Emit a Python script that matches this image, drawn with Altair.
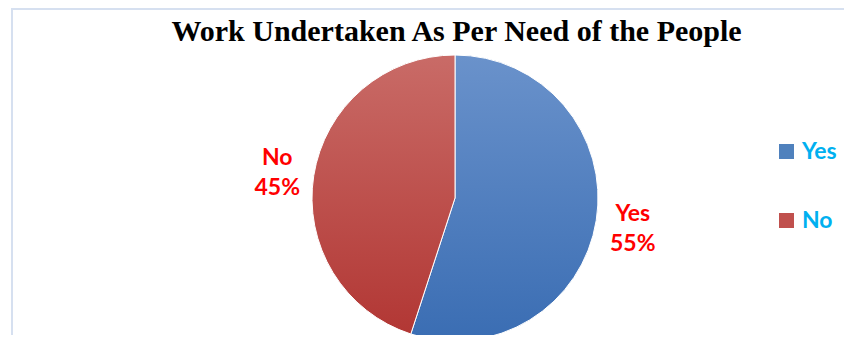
import altair as alt
import pandas as pd

labels = ["Yes", "No"]
values = [55, 45]
label_text = ["Yes\n55%", "No\n45%"]
orders = [1, 2]

df = pd.DataFrame({"label": labels, "value": values, "text": label_text, "ord": orders})

W, H = 833, 327
CX, CY, R = 444, 190, 143

grad_blue = {"gradient": "linear", "x1": 0, "y1": 0, "x2": 0, "y2": 1,
             "stops": [{"offset": 0, "color": "#6A92CB"}, {"offset": 1, "color": "#3A6DB3"}]}
grad_red = {"gradient": "linear", "x1": 0, "y1": 0, "x2": 0, "y2": 1,
            "stops": [{"offset": 0, "color": "#C96B67"}, {"offset": 1, "color": "#B23734"}]}

base = alt.Chart(df)

pie = base.mark_arc(radius=R, stroke="#ffffff", strokeWidth=1).encode(
    theta=alt.Theta("value:Q", stack=True),
    order=alt.Order("ord:Q"),
    color=alt.Color("label:N",
                    scale=alt.Scale(domain=labels, range=["#4F81BD", "#C0504D"]),
                    legend=alt.Legend(title=None, orient="none", legendX=764, legendY=132,
                                      symbolType="square", symbolSize=225, symbolStrokeWidth=0,
                                      labelFont="Lato", labelFontWeight="bold", labelFontSize=23,
                                      labelColor="#00B0F0", labelOffset=4, rowPadding=45)),
    x=alt.value(CX), y=alt.value(CY),
)

grad = base.mark_arc(radius=R, stroke="#ffffff", strokeWidth=1).encode(
    theta=alt.Theta("value:Q", stack=True),
    order=alt.Order("ord:Q"),
    color=alt.condition("datum.label === 'Yes'", alt.value(grad_blue), alt.value(grad_red)),
    x=alt.value(CX), y=alt.value(CY),
)

text = base.mark_text(radius=180, font="Lato", fontWeight="bold", fontSize=23,
                      color="#FF0000", lineBreak="\n", lineHeight=30,
                      align="center", baseline="middle", dy=-12).encode(
    theta=alt.Theta("value:Q", stack=True),
    order=alt.Order("ord:Q"),
    text="text:N",
    x=alt.value(CX), y=alt.value(CY),
)

frame_top = alt.Chart(pd.DataFrame({"k": [0]})).mark_rule(color="#D6E0F0", strokeWidth=2).encode(
    x=alt.value(0), x2=alt.value(W + 10), y=alt.value(1))
frame_left = alt.Chart(pd.DataFrame({"k": [0]})).mark_rule(color="#D6E0F0", strokeWidth=2).encode(
    x=alt.value(1), y=alt.value(0), y2=alt.value(H + 10))

chart = alt.layer(frame_top, frame_left, pie, grad, text).properties(
    width=W, height=H,
    autosize=alt.AutoSizeParams(type="none"),
    padding={"left": 3, "top": 0, "right": 0, "bottom": 0},
    title=alt.TitleParams("Work Undertaken As Per Need of the People", font="Liberation Serif",
                          fontWeight="bold", fontSize=30, color="#000000", frame="group",
                          anchor="middle", offset=-35, baseline="alphabetic", dx=29, dy=29),
).configure_view(stroke=None)

chart.save("out.html", embed_options={"renderer": "svg", "actions": False})
